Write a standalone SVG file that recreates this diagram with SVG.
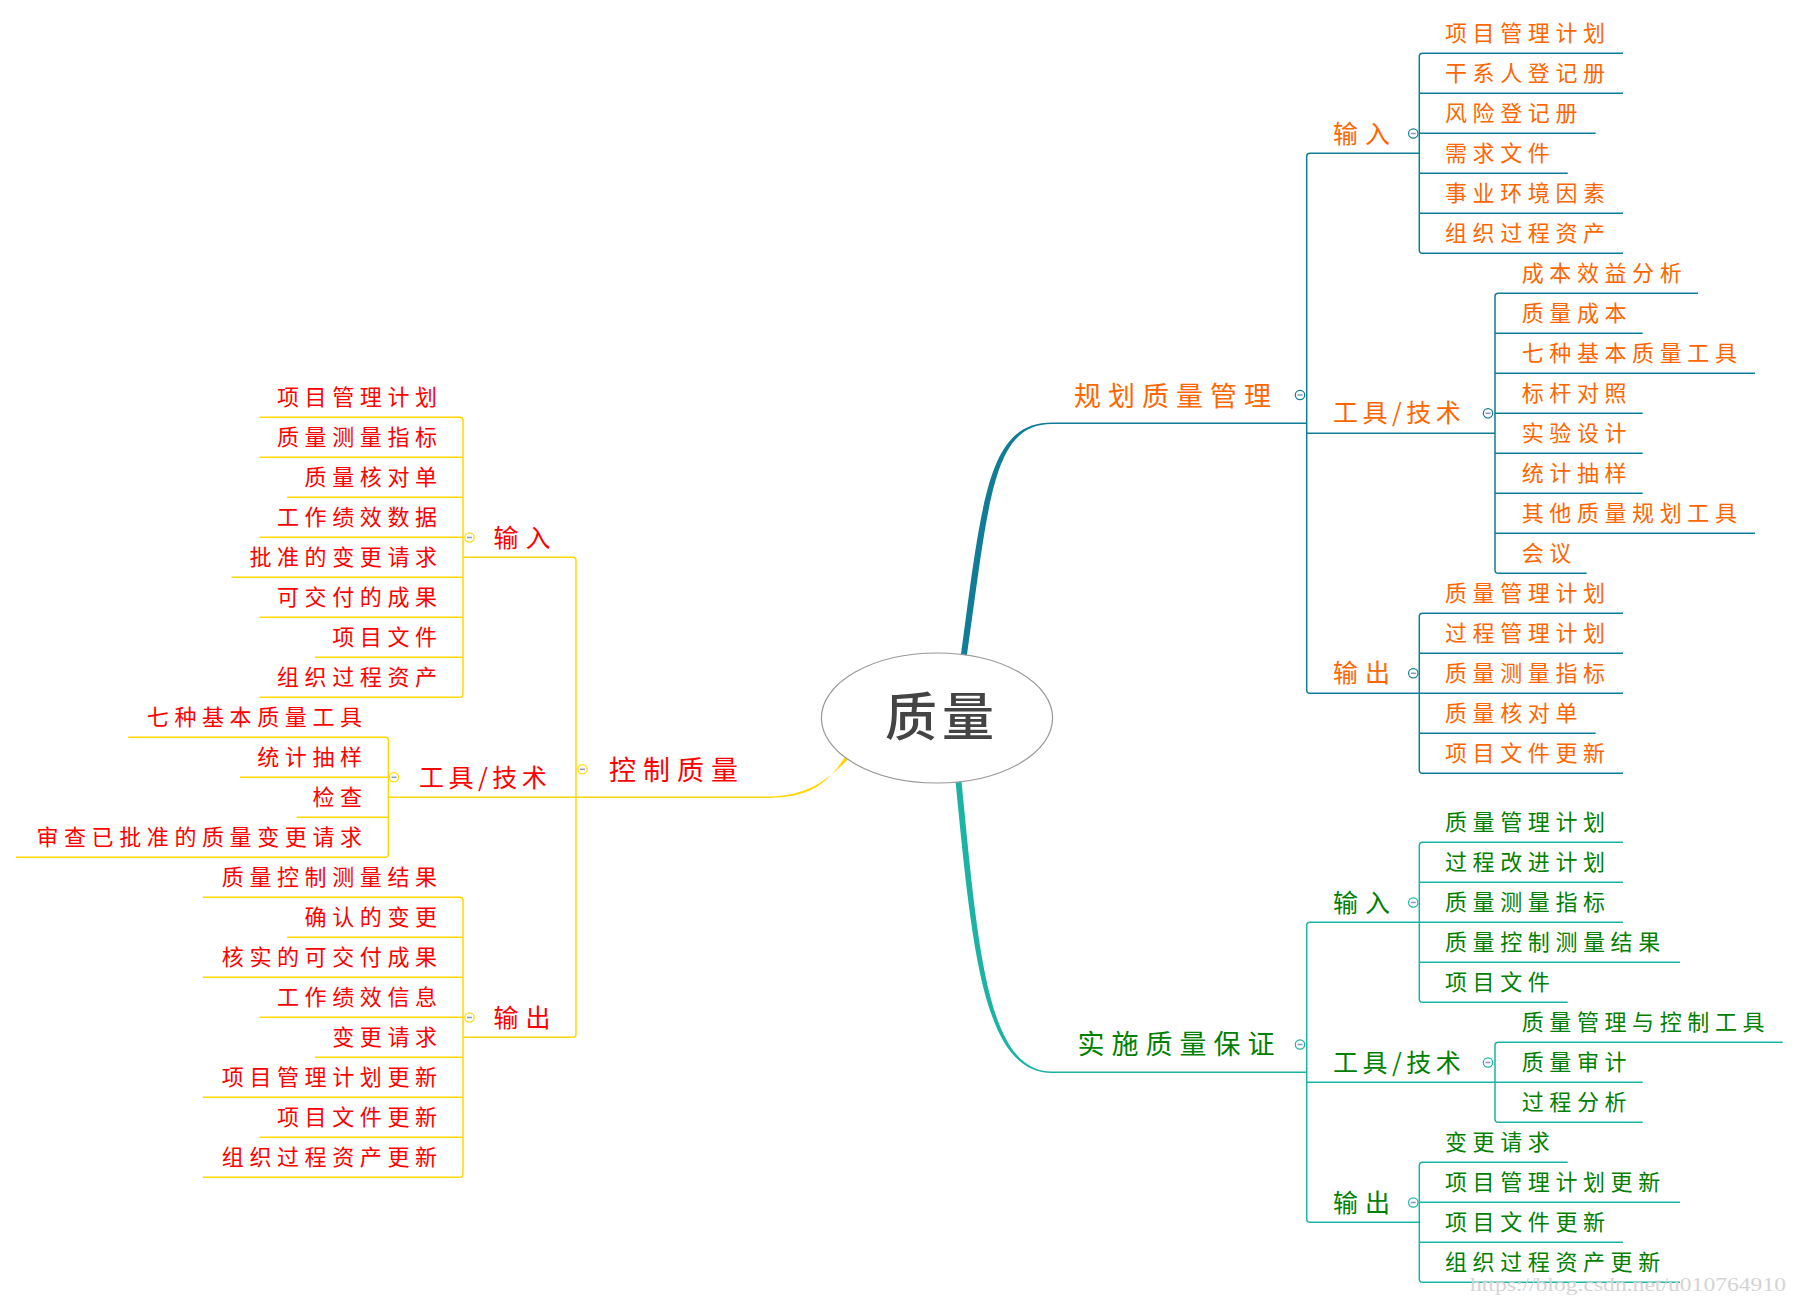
<svg xmlns="http://www.w3.org/2000/svg" width="1799" height="1298" viewBox="0 0 1799 1298">
<style>
text{font-family:"Noto Sans CJK SC","Noto Sans CJK JP",sans-serif;}
.c{font-size:22px;letter-spacing:5.6px;}
.l2{font-size:25px;letter-spacing:7px;}
.tt{letter-spacing:4.5px;}
.l1{font-size:27px;letter-spacing:7px;}
.o{fill:#FF6600;}
.r{fill:#FF0000;}
.g{fill:#008000;}
.lb{fill:none;stroke:#117c95;stroke-width:1.5;}
.lg{fill:none;stroke:#1bb3a3;stroke-width:1.5;}
.ly{fill:none;stroke:#FFD700;stroke-width:1.5;}
.cb{fill:#fff;stroke:#117c95;stroke-width:1.2;}
.cg{fill:#fff;stroke:#1bb3a3;stroke-width:1.2;}
.cy{fill:#fff;stroke:#FFD700;stroke-width:1.2;}
.m{stroke:#8a94c4;stroke-width:1.5;}
</style>
<rect width="1799" height="1298" fill="#fff"/>
<g id="connectors">
  <!-- top right -->
  <path d="M960,662 C982,500 987,422.6 1052,422.6 L1052,424 C992,424 989,500 966,662 Z" fill="#117c95"/>
  <path class="lb" d="M1052,423.3 H1306.7"/>
  <path class="lb" d="M1419.3,153.3 H1310 Q1306.7,153.3 1306.7,156.6 V690 Q1306.7,693.3 1310,693.3 H1419.3 M1306.7,433.3 H1495"/>
  <path class="lb" d="M1623,53.3 H1422.6 Q1419.3,53.3 1419.3,56.6 V250 Q1419.3,253.3 1422.6,253.3 H1623 M1419.3,93.3 H1623 M1419.3,133.3 H1595.7 M1419.3,173.3 H1567.7 M1419.3,213.3 H1623"/>
  <path class="lb" d="M1698,293.3 H1498.3 Q1495,293.3 1495,296.6 V570 Q1495,573.3 1498.3,573.3 H1586.7 M1495,333.3 H1642.7 M1495,373.3 H1755 M1495,413.3 H1642.7 M1495,453.3 H1642.7 M1495,493.3 H1642.7 M1495,533.3 H1755"/>
  <path class="lb" d="M1623,613.3 H1422.6 Q1419.3,613.3 1419.3,616.6 V770 Q1419.3,773.3 1422.6,773.3 H1623 M1419.3,653.3 H1623 M1419.3,693.3 H1623 M1419.3,733.3 H1595.7"/>
  <!-- bottom right -->
  <path d="M955,776 C972,950 983,1073 1052,1073 L1052,1071.6 C987,1071.6 978,950 961,776 Z" fill="#1bb3a3"/>
  <path class="lg" d="M1052,1072.3 H1306.7"/>
  <path class="lg" d="M1419.3,922.3 H1310 Q1306.7,922.3 1306.7,925.6 V1219 Q1306.7,1222.3 1310,1222.3 H1419.3 M1306.7,1082.3 H1495"/>
  <path class="lg" d="M1623,842.3 H1422.6 Q1419.3,842.3 1419.3,845.6 V999 Q1419.3,1002.3 1422.6,1002.3 H1567.7 M1419.3,882.3 H1623 M1419.3,922.3 H1623 M1419.3,962.3 H1680"/>
  <path class="lg" d="M1782.7,1042.3 H1498.3 Q1495,1042.3 1495,1045.6 V1119 Q1495,1122.3 1498.3,1122.3 H1642.7 M1495,1082.3 H1642.7"/>
  <path class="lg" d="M1567.7,1162.3 H1422.6 Q1419.3,1162.3 1419.3,1165.6 V1279 Q1419.3,1282.3 1422.6,1282.3 H1680 M1419.3,1202.3 H1680 M1419.3,1242.3 H1623"/>
  <!-- left -->
  <path d="M854.3,752.9 C820,789 801,796.6 759,796.6 L759,798 C803,798 825,792 849.7,749.1 Z" fill="#FFD700"/>
  <path class="ly" d="M759,797.3 H388.4"/>
  <path class="ly" d="M463,557.3 H572.7 Q576,557.3 576,560.6 V1034 Q576,1037.3 572.7,1037.3 H463"/>
  <path class="ly" d="M259.5,417.3 H459.7 Q463,417.3 463,420.6 V694 Q463,697.3 459.7,697.3 H259.5 M463,457.3 H259.5 M463,497.3 H287 M463,537.3 H259.5 M463,577.3 H231.5 M463,617.3 H259.5 M463,657.3 H315"/>
  <path class="ly" d="M128.2,737.3 H385.1 Q388.4,737.3 388.4,740.6 V854 Q388.4,857.3 385.1,857.3 H16 M388.4,777.3 H240 M388.4,817.3 H296.6"/>
  <path class="ly" d="M202.8,897.3 H459.7 Q463,897.3 463,900.6 V1174 Q463,1177.3 459.7,1177.3 H202.8 M463,937.3 H287 M463,977.3 H202.8 M463,1017.3 H259.5 M463,1057.3 H315 M463,1097.3 H202.8 M463,1137.3 H259.5"/>
  <!-- collapse markers -->
  <g>
    <circle class="cb" cx="1300" cy="395" r="4.7"/><path class="m" d="M1297.5,395 H1302.5"/>
    <circle class="cb" cx="1413.3" cy="133.5" r="4.7"/><path class="m" d="M1410.8,133.5 H1415.8"/>
    <circle class="cb" cx="1488" cy="413.3" r="4.7"/><path class="m" d="M1485.5,413.3 H1490.5"/>
    <circle class="cb" cx="1413.3" cy="673.3" r="4.7"/><path class="m" d="M1410.8,673.3 H1415.8"/>
    <circle class="cg" cx="1300" cy="1044.5" r="4.7"/><path class="m" d="M1297.5,1044.5 H1302.5"/>
    <circle class="cg" cx="1413.3" cy="902.5" r="4.7"/><path class="m" d="M1410.8,902.5 H1415.8"/>
    <circle class="cg" cx="1488" cy="1062.5" r="4.7"/><path class="m" d="M1485.5,1062.5 H1490.5"/>
    <circle class="cg" cx="1413.3" cy="1202.5" r="4.7"/><path class="m" d="M1410.8,1202.5 H1415.8"/>
    <circle class="cy" cx="582.5" cy="769.3" r="4.7"/><path class="m" d="M580,769.3 H585"/>
    <circle class="cy" cx="469.5" cy="537.5" r="4.7"/><path class="m" d="M467,537.5 H472"/>
    <circle class="cy" cx="394" cy="777.3" r="4.7"/><path class="m" d="M391.5,777.3 H396.5"/>
    <circle class="cy" cx="469.5" cy="1017.5" r="4.7"/><path class="m" d="M467,1017.5 H472"/>
  </g>
</g>
<g id="center">
  <ellipse cx="937" cy="718" rx="115.6" ry="65" fill="#fff" stroke="#999" stroke-width="1.2"/>
  <text x="885" y="736" font-size="52" letter-spacing="5" fill="#444" font-weight="500">质量</text>
</g>
<g id="plan">
  <text class="l1 o" x="1074" y="406">规划质量管理</text>
  <g id="plan-in">
    <text class="l2 o" x="1333" y="143">输入</text>
    <text class="c o" x="1445" y="41.3">项目管理计划</text>
    <text class="c o" x="1445" y="81.3">干系人登记册</text>
    <text class="c o" x="1445" y="121.3">风险登记册</text>
    <text class="c o" x="1445" y="161.3">需求文件</text>
    <text class="c o" x="1445" y="201.3">事业环境因素</text>
    <text class="c o" x="1445" y="241.3">组织过程资产</text>
  </g>
  <g id="plan-tool">
    <text class="l2 tt o" x="1333" y="422">工具/技术</text>
    <text class="c o" x="1521.7" y="281.3">成本效益分析</text>
    <text class="c o" x="1521.7" y="321.3">质量成本</text>
    <text class="c o" x="1521.7" y="361.3">七种基本质量工具</text>
    <text class="c o" x="1521.7" y="401.3">标杆对照</text>
    <text class="c o" x="1521.7" y="441.3">实验设计</text>
    <text class="c o" x="1521.7" y="481.3">统计抽样</text>
    <text class="c o" x="1521.7" y="521.3">其他质量规划工具</text>
    <text class="c o" x="1521.7" y="561.3">会议</text>
  </g>
  <g id="plan-out">
    <text class="l2 o" x="1333" y="682">输出</text>
    <text class="c o" x="1445" y="601.3">质量管理计划</text>
    <text class="c o" x="1445" y="641.3">过程管理计划</text>
    <text class="c o" x="1445" y="681.3">质量测量指标</text>
    <text class="c o" x="1445" y="721.3">质量核对单</text>
    <text class="c o" x="1445" y="761.3">项目文件更新</text>
  </g>
</g>
<g id="assure">
  <text class="l1 g" x="1077.5" y="1054">实施质量保证</text>
  <g id="assure-in">
    <text class="l2 g" x="1333" y="911.5">输入</text>
    <text class="c g" x="1445" y="830.3">质量管理计划</text>
    <text class="c g" x="1445" y="870.3">过程改进计划</text>
    <text class="c g" x="1445" y="910.3">质量测量指标</text>
    <text class="c g" x="1445" y="950.3">质量控制测量结果</text>
    <text class="c g" x="1445" y="990.3">项目文件</text>
  </g>
  <g id="assure-tool">
    <text class="l2 tt g" x="1333" y="1071.5">工具/技术</text>
    <text class="c g" x="1521.7" y="1030.3">质量管理与控制工具</text>
    <text class="c g" x="1521.7" y="1070.3">质量审计</text>
    <text class="c g" x="1521.7" y="1110.3">过程分析</text>
  </g>
  <g id="assure-out">
    <text class="l2 g" x="1333" y="1211.5">输出</text>
    <text class="c g" x="1445" y="1150.3">变更请求</text>
    <text class="c g" x="1445" y="1190.3">项目管理计划更新</text>
    <text class="c g" x="1445" y="1230.3">项目文件更新</text>
    <text class="c g" x="1445" y="1270.3">组织过程资产更新</text>
  </g>
</g>
<g id="control">
  <text class="l1 r" x="609" y="779.5">控制质量</text>
  <g id="control-in">
    <text class="l2 r" x="493.5" y="546.5">输入</text>
    <text class="c r" x="277" y="405.3">项目管理计划</text>
    <text class="c r" x="277" y="445.3">质量测量指标</text>
    <text class="c r" x="304.6" y="485.3">质量核对单</text>
    <text class="c r" x="277" y="525.3">工作绩效数据</text>
    <text class="c r" x="249.4" y="565.3">批准的变更请求</text>
    <text class="c r" x="277" y="605.3">可交付的成果</text>
    <text class="c r" x="332.2" y="645.3">项目文件</text>
    <text class="c r" x="277" y="685.3">组织过程资产</text>
  </g>
  <g id="control-tool">
    <text class="l2 tt r" x="419" y="786.5">工具/技术</text>
    <text class="c r" x="146.8" y="725.3">七种基本质量工具</text>
    <text class="c r" x="257.2" y="765.3">统计抽样</text>
    <text class="c r" x="312.4" y="805.3">检查</text>
    <text class="c r" x="36.4" y="845.3">审查已批准的质量变更请求</text>
  </g>
  <g id="control-out">
    <text class="l2 r" x="493.5" y="1026.5">输出</text>
    <text class="c r" x="221.8" y="885.3">质量控制测量结果</text>
    <text class="c r" x="304.6" y="925.3">确认的变更</text>
    <text class="c r" x="221.8" y="965.3">核实的可交付成果</text>
    <text class="c r" x="277" y="1005.3">工作绩效信息</text>
    <text class="c r" x="332.2" y="1045.3">变更请求</text>
    <text class="c r" x="221.8" y="1085.3">项目管理计划更新</text>
    <text class="c r" x="277" y="1125.3">项目文件更新</text>
    <text class="c r" x="221.8" y="1165.3">组织过程资产更新</text>
  </g>
</g>
<text x="1470" y="1291" font-size="19" textLength="316" lengthAdjust="spacingAndGlyphs" fill="#d4d4d4" style="font-family:'Liberation Serif',serif">https://blog.csdn.net/u010764910</text>
</svg>
